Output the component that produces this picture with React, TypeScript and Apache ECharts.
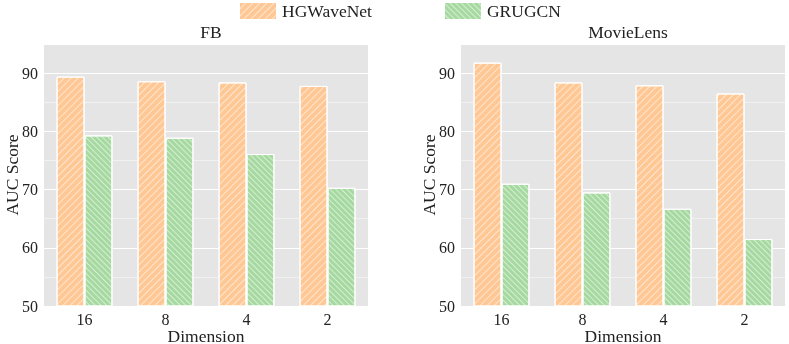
import React, { useEffect, useRef } from "react";
import * as echarts from "echarts";

const dimensions = ["16", "8", "4", "2"];
const panelTitles = ["FB", "MovieLens"];
const seriesNames = ["HGWaveNet", "GRUGCN"];
const fbHGWaveNet = [89.4, 88.6, 88.4, 87.8];
const fbGRUGCN = [79.3, 78.9, 76.1, 70.3];
const mlHGWaveNet = [91.8, 88.4, 87.9, 86.5];
const mlGRUGCN = [71.0, 69.5, 66.7, 61.5];

const ORANGE = "#FFC794";
const GREEN = "#A5D9A0";
const FONT = "'Liberation Serif', 'Times New Roman', serif";

export default function App() {
  const ref = useRef<HTMLDivElement>(null);
  useEffect(() => {
    if (!ref.current) return;
    const chart = echarts.init(ref.current, null, { renderer: "svg" });
    const grids = [
      { left: 44, top: 44, width: 324, height: 262 },
      { left: 461, top: 44, width: 324, height: 262 },
    ];
    const decalFwd = {
      symbol: "rect",
      symbolSize: 1,
      color: "rgba(255,255,255,0.55)",
      dashArrayX: [1, 0],
      dashArrayY: [1, 3.5],
      rotation: -Math.PI / 4,
    };
    const decalBack = { ...decalFwd, dashArrayY: [1, 2.8], rotation: Math.PI / 4 };
    const data = [
      [fbHGWaveNet, fbGRUGCN],
      [mlHGWaveNet, mlGRUGCN],
    ];
    const series: any[] = [];
    [0, 1].forEach((g) => {
      [0, 1].forEach((s) => {
        series.push({
          type: "bar",
          name: seriesNames[s],
          xAxisIndex: g,
          yAxisIndex: g,
          data: data[g][s],
          barGap: "0%",
          barCategoryGap: "31%",
          itemStyle: {
            color: s === 0 ? ORANGE : GREEN,
            borderColor: "#ffffff",
            borderWidth: 1,
            decal: s === 0 ? decalFwd : decalBack,
          },
        });
      });
    });
    chart.setOption({
      animation: false,
      textStyle: { fontFamily: FONT },
      title: panelTitles.map((t, i) => ({
        text: t,
        left: grids[i].left + grids[i].width / 2,
        textAlign: "center",
        top: 18,
        padding: 5,
        textStyle: { fontFamily: FONT, fontSize: 17.5, fontWeight: "normal", color: "#222" },
      })),
      legend: {
        left: 238,
        top: 1,
        padding: 0,
        icon: "rect",
        itemWidth: 38,
        itemHeight: 18,
        itemGap: 71,
        itemTextGap: 5,
        data: seriesNames,
        textStyle: { fontFamily: FONT, fontSize: 17.5, color: "#222" },
      },
      grid: grids.map((g) => ({
        ...g,
        show: true,
        backgroundColor: "#E5E5E5",
        borderWidth: 0,
        containLabel: false,
        outerBoundsMode: "none",
      })),
      xAxis: [0, 1].map((i) => ({
        type: "category",
        gridIndex: i,
        data: dimensions,
        name: "Dimension",
        nameLocation: "middle",
        nameGap: 21,
        nameMoveOverlap: false,
        nameTextStyle: { fontFamily: FONT, fontSize: 17.5, lineHeight: 17, color: "#222" },
        axisLine: { show: false },
        axisTick: { show: false },
        axisLabel: { fontFamily: FONT, fontSize: 16, color: "#222", margin: 5 },
      })),
      yAxis: [0, 1].map((i) => ({
        type: "value",
        gridIndex: i,
        min: 50,
        max: 95,
        interval: 10,
        name: "AUC Score",
        nameLocation: "middle",
        nameGap: 23,
        nameMoveOverlap: false,
        nameTextStyle: { fontFamily: FONT, fontSize: 17.5, color: "#222" },
        axisLine: { show: false },
        axisTick: { show: false },
        axisLabel: {
          fontFamily: FONT,
          fontSize: 16,
          color: "#222",
          margin: 6,
          showMaxLabel: false,
          formatter: (v: number) => (v % 10 === 0 ? String(v) : ""),
        },
        splitLine: { show: true, lineStyle: { color: "#ffffff", width: 1 } },
        minorTick: { show: false, splitNumber: 2 },
        minorSplitLine: { show: true, lineStyle: { color: "rgba(255,255,255,0.6)", width: 0.8 } },
      })),
      series,
    });
    return () => chart.dispose();
  }, []);
  return (
    <div
      ref={ref}
      style={{ position: "fixed", left: 0, top: 0, width: 789, height: 344 }}
    />
  );
}
